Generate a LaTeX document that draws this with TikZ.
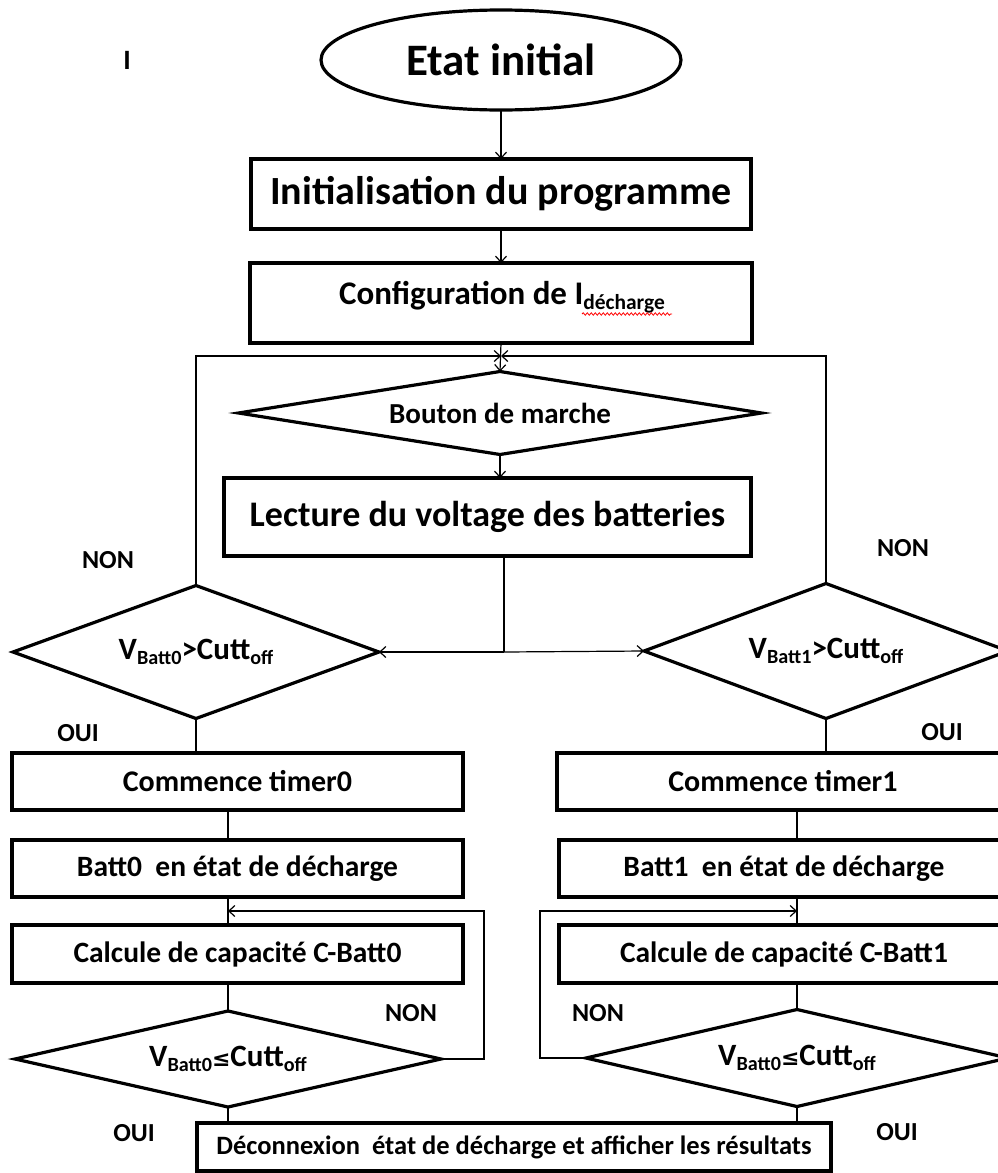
\documentclass[tikz,border=0pt]{standalone}
\usepackage{fontspec}
\setmainfont{Carlito}
\newfontfamily\symfont{DejaVu Sans}
\usepackage{graphicx}
\usetikzlibrary{shapes.geometric,arrows.meta,decorations.pathmorphing}
\newcommand\subx[1]{\raisebox{-0.16em}{\scalebox{0.65}{#1}}}
\newcommand\fs[1]{\fontsize{#1}{#1}\selectfont}
\begin{document}
\begin{tikzpicture}[x=1pt,y=-1pt,
  box/.style={draw,line width=3.2pt,rectangle,inner sep=0pt,outer sep=0pt,font=\bfseries},
  dia/.style={draw,line width=3.2pt,diamond,inner sep=0pt,outer sep=0pt,font=\bfseries},
  conn/.style={line width=1.2pt},
  arr/.style={conn,-{Straight Barb[length=6pt,width=11pt]}},
  lbl/.style={font=\bfseries\fs{26}},
  txt/.style={inner sep=0pt,font=\bfseries}]
\useasboundingbox (0,0) rectangle (998,1173);
\clip (0,0) rectangle (998,1173);
\fill[white] (0,0) rectangle (998,1173);

% top
\node[txt,font=\bfseries\fs{28}] (stray) at (127,60) {I};
\node[draw,ellipse,line width=3.2pt,minimum width=360,minimum height=100,inner sep=0pt,outer sep=0pt,font=\bfseries\fs{45}] (E) at (501,60) {Etat initial};
\node[box,minimum width=500,minimum height=70,font=\bfseries\fs{40}] (B1) at (501,194) {Initialisation du programme};
\node[box,minimum width=502,minimum height=80] (B2) at (501,303) {};
\node[txt,font=\bfseries\fs{33}] (T2) at (502,297) {Configuration de I\subx{décharge}};
\draw[red,line width=0.8pt,decorate,decoration={snake,amplitude=1.2pt,segment length=4pt}] (582,314) -- (672,314);
\coordinate (J) at (501,356);
\node[dia,minimum width=523,minimum height=83,aspect=6.3,font=\bfseries\fs{29}] (Bt) at (500,413) {Bouton de marche};
\node[box,minimum width=527,minimum height=78,font=\bfseries\fs{36}] (L) at (487.5,517) {Lecture du voltage des batteries};

% decisions
\node[dia,minimum width=366,minimum height=133,aspect=2.75,font=\bfseries\fs{31}] (D0) at (196,652) {V\subx{Batt0}>Cutt\subx{off}};
\node[dia,minimum width=364,minimum height=135,aspect=2.7,font=\bfseries\fs{31}] (D1) at (826,651) {V\subx{Batt1}>Cutt\subx{off}};
\coordinate (S) at (504,652);

% left column
\node[box,minimum width=451,minimum height=57,font=\bfseries\fs{30}] (Tm0) at (237.5,781.5) {Commence timer0};
\node[box,minimum width=451,minimum height=57,font=\bfseries\fs{29.5}] (Bb0) at (237.5,868.5) {Batt0~ en état de décharge};
\node[box,minimum width=451,minimum height=58,font=\bfseries\fs{29.5}] (C0) at (237.5,954) {Calcule de capacité C-Batt0};
\node[dia,minimum width=426,minimum height=96,aspect=4.4,font=\bfseries\fs{31}] (D2) at (228,1059) {V\subx{Batt0}{\symfont\fs{22}≤}Cutt\subx{off}};

% right column
\node[box,minimum width=452,minimum height=57,font=\bfseries\fs{30}] (Tm1) at (783,781.5) {Commence timer1};
\node[box,minimum width=450,minimum height=57,font=\bfseries\fs{29.5}] (Bb1) at (784,868.5) {Batt1~ en état de décharge};
\node[box,minimum width=450,minimum height=58,font=\bfseries\fs{29.5}] (C1) at (784,954) {Calcule de capacité C-Batt1};
\node[dia,minimum width=422,minimum height=97,aspect=4.35,font=\bfseries\fs{31}] (D3) at (797,1058) {V\subx{Batt0}{\symfont\fs{22}≤}Cutt\subx{off}};

% final
\node[box,minimum width=634,minimum height=48,font=\bfseries\fs{26.5}] (Fin) at (514,1147) {Déconnexion~ état de décharge et afficher les résultats};

\coordinate (colL) at (228,0);
\coordinate (colR) at (797,0);
\coordinate (kL) at (228,911);
\coordinate (rL) at (484,911);
\coordinate (kR) at (797,911);
\coordinate (rR) at (540,911);

% connectors
\draw[arr] (E.south) -- (B1.north);
\draw[arr] (B1.south) -- (B2.north);
\draw[arr] (B2.south) -- (Bt.north);
\draw[arr] (D0.north) |- (J);
\draw[arr] (D1.north) |- (J);
\draw[arr] (Bt.south) -- (Bt.south |- L.north);
\draw[conn] (S |- L.south) -- (S);
\draw[arr] (S) -- (D0.east);
\draw[arr] (S) -- (D1.west);
\draw[conn] (D0.south) -- (D0.south |- Tm0.north);
\draw[conn] (D1.south) -- (D1.south |- Tm1.north);
\draw[conn] (Tm0.south -| colL) -- (Bb0.north -| colL);
\draw[conn] (Bb0.south -| colL) -- (C0.north -| colL);
\draw[conn] (C0.south -| colL) -- (D2.north);
\draw[conn] (Tm1.south -| colR) -- (Bb1.north -| colR);
\draw[conn] (Bb1.south -| colR) -- (C1.north -| colR);
\draw[conn] (C1.south -| colR) -- (D3.north);
\draw[arr] (D2.east) -| (rL) -- (kL);
\draw[arr] (D3.west) -| (rR) -- (kR);
\draw[conn] (D2.south) -- (D2.south |- Fin.north);
\draw[conn] (D3.south) -- (D3.south |- Fin.north);

% labels
\node[lbl] (n1) at (108,560) {NON};
\node[lbl] (n2) at (903,548) {NON};
\node[lbl] (o1) at (78,733) {OUI};
\node[lbl] (o2) at (942,732) {OUI};
\node[lbl] (n3) at (411,1013) {NON};
\node[lbl] (n4) at (598,1013) {NON};
\node[lbl] (o3) at (134,1133) {OUI};
\node[lbl] (o4) at (897,1132) {OUI};
\end{tikzpicture}
\end{document}
